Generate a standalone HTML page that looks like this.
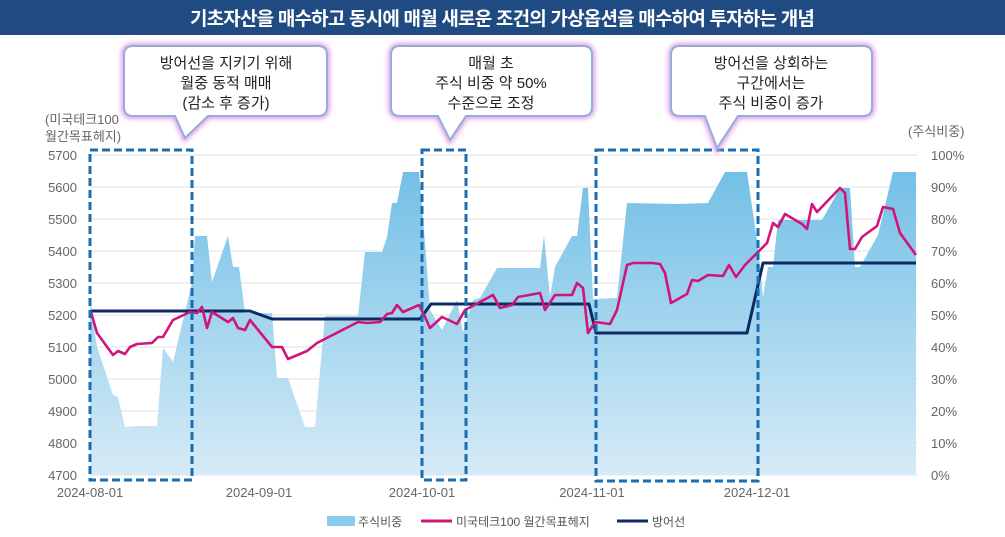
<!DOCTYPE html>
<html><head><meta charset="utf-8"><style>
body{margin:0;background:#fff;}
svg{display:block;font-family:"Liberation Sans","Noto Sans CJK KR",sans-serif;}
</style></head><body>
<svg width="1005" height="537" viewBox="0 0 1005 537" xmlns="http://www.w3.org/2000/svg">
<defs>
<linearGradient id="ag" x1="0" y1="155" x2="0" y2="475" gradientUnits="userSpaceOnUse">
<stop offset="0" stop-color="#6dbde5"/><stop offset="1" stop-color="#d6ebf7"/></linearGradient>
<filter id="gl" x="-20%" y="-30%" width="140%" height="160%"><feGaussianBlur stdDeviation="2.5"/></filter>
</defs>
<rect x="0" y="0" width="1005" height="35" fill="#1f4b82"/>
<text x="502" y="25" text-anchor="middle" fill="#fff" font-size="19" font-weight="bold" letter-spacing="-0.8">기초자산을 매수하고 동시에 매월 새로운 조건의 가상옵션을 매수하여 투자하는 개념</text>
<g stroke="#e2e2e2" stroke-width="1">
<line x1="90" y1="155" x2="918" y2="155"/><line x1="90" y1="187" x2="918" y2="187"/><line x1="90" y1="219" x2="918" y2="219"/><line x1="90" y1="251" x2="918" y2="251"/><line x1="90" y1="283" x2="918" y2="283"/><line x1="90" y1="315" x2="918" y2="315"/><line x1="90" y1="347" x2="918" y2="347"/><line x1="90" y1="379" x2="918" y2="379"/><line x1="90" y1="411" x2="918" y2="411"/><line x1="90" y1="443" x2="918" y2="443"/><line x1="90" y1="475" x2="918" y2="475"/>
</g>
<g fill="#666" font-size="13" text-anchor="end">
<text x="77" y="160">5700</text><text x="77" y="192">5600</text><text x="77" y="224">5500</text><text x="77" y="256">5400</text><text x="77" y="288">5300</text><text x="77" y="320">5200</text><text x="77" y="352">5100</text><text x="77" y="384">5000</text><text x="77" y="416">4900</text><text x="77" y="448">4800</text><text x="77" y="480">4700</text>
</g>
<g fill="#666" font-size="13">
<text x="931" y="160">100%</text><text x="931" y="192">90%</text><text x="931" y="224">80%</text><text x="931" y="256">70%</text><text x="931" y="288">60%</text><text x="931" y="320">50%</text><text x="931" y="352">40%</text><text x="931" y="384">30%</text><text x="931" y="416">20%</text><text x="931" y="448">10%</text><text x="931" y="480">0%</text>
<text x="45" y="124">(미국테크100</text><text x="45" y="141">월간목표헤지)</text>
<text x="908" y="136">(주식비중)</text>
</g>
<g fill="#666" font-size="13" text-anchor="middle">
<text x="90" y="497">2024-08-01</text><text x="259" y="497">2024-09-01</text><text x="422" y="497">2024-10-01</text><text x="592" y="497">2024-11-01</text><text x="757" y="497">2024-12-01</text>
</g>
<path fill="url(#ag)" d="M90,475 L90,300 97,347 113,395 118,397 125,427 137,426 157,426 163,348 173,362 192,283 195,236 207,236 212,282 228,236 233,267 239,267 245,313 272,313 277,378 288,378 305,427 315,427 325,316 358,316 365,252 382,252 387,237 392,203 397,203 403,172 419,172 425,243 430,310 442,330 457,300 463,332 473,300 480,298 497,268 540,268 544,236 550,297 555,267 572,236 577,236 583,188 588,188 593,299 617,298 627,203 677,204 708,203 725,172 747,172 758,247 763,297 768,267 773,267 778,220 822,220 840,188 850,188 855,267 860,267 878,235 893,172 916,172 916,475 Z"/>
<polyline fill="none" stroke="#0d2a63" stroke-width="3" stroke-linejoin="round" points="91,311 250,311 272,319 420,319 431,304 589,304 596,333 747,333 763,263 916,263"/>
<polyline fill="none" stroke="#d1147a" stroke-width="2.6" stroke-linejoin="round" points="91,312 97,333 113,355 118,351 125,354 130,347 137,344 152,343 158,337 163,337 173,320 190,312 197,313 202,307 207,328 212,312 228,322 233,318 238,328 245,330 250,320 272,347 282,347 288,359 307,351 317,343 358,322 367,323 380,322 387,314 392,313 397,305 403,312 419,305 425,317 430,328 442,317 457,324 465,310 493,295 500,308 512,305 518,297 540,293 545,310 555,295 572,295 577,283 583,288 588,333 595,322 610,324 617,310 627,265 633,263 652,263 660,264 665,273 671,303 687,294 692,280 698,281 708,275 723,276 729,265 736,277 745,265 767,243 773,223 778,227 785,214 802,224 807,229 812,204 817,212 840,188 845,193 850,249 855,249 862,237 877,226 883,207 893,209 900,233 916,255"/>
<g fill="none" stroke="#1a6cb3" stroke-width="3" stroke-dasharray="8 4">
<rect x="90" y="150" width="102" height="330"/>
<rect x="422" y="150" width="44" height="330"/>
<rect x="596" y="150" width="162" height="331"/>
</g>
<g>
<path d="M133,46 H318 Q327,46 327,55 V107 Q327,116 318,116 H208 L185,138 L175,116 H133 Q124,116 124,107 V55 Q124,46 133,46 Z" fill="none" stroke="#e79ee6" stroke-width="6" filter="url(#gl)"/>
<path d="M133,46 H318 Q327,46 327,55 V107 Q327,116 318,116 H208 L185,138 L175,116 H133 Q124,116 124,107 V55 Q124,46 133,46 Z" fill="#fff" stroke="#8fb0da" stroke-width="2"/>
<g font-size="15" fill="#222" text-anchor="middle"><text x="226" y="68">방어선을 지키기 위해</text><text x="226" y="88">월중 동적 매매</text><text x="226" y="108">(감소 후 증가)</text></g>
<path d="M400,46 H583 Q592,46 592,55 V107 Q592,116 583,116 H466 L450,140 L438,116 H400 Q391,116 391,107 V55 Q391,46 400,46 Z" fill="none" stroke="#e79ee6" stroke-width="6" filter="url(#gl)"/>
<path d="M400,46 H583 Q592,46 592,55 V107 Q592,116 583,116 H466 L450,140 L438,116 H400 Q391,116 391,107 V55 Q391,46 400,46 Z" fill="#fff" stroke="#8fb0da" stroke-width="2"/>
<g font-size="15" fill="#222" text-anchor="middle"><text x="491" y="68">매월 초</text><text x="491" y="88">주식 비중 약 50%</text><text x="491" y="108">수준으로 조정</text></g>
<path d="M680,46 H863 Q872,46 872,55 V107 Q872,116 863,116 H738 L717,148 L705,116 H680 Q671,116 671,107 V55 Q671,46 680,46 Z" fill="none" stroke="#e79ee6" stroke-width="6" filter="url(#gl)"/>
<path d="M680,46 H863 Q872,46 872,55 V107 Q872,116 863,116 H738 L717,148 L705,116 H680 Q671,116 671,107 V55 Q671,46 680,46 Z" fill="#fff" stroke="#8fb0da" stroke-width="2"/>
<g font-size="15" fill="#222" text-anchor="middle"><text x="771" y="68">방어선을 상회하는</text><text x="771" y="88">구간에서는</text><text x="771" y="108">주식 비중이 증가</text></g>
</g>
<rect x="327" y="516" width="28" height="10" fill="#8ccbeb"/>
<text x="358" y="526" font-size="12" fill="#555">주식비중</text>
<line x1="421" y1="521" x2="452" y2="521" stroke="#d1147a" stroke-width="3"/>
<text x="456" y="526" font-size="12" fill="#555">미국테크100 월간목표헤지</text>
<line x1="617" y1="521" x2="648" y2="521" stroke="#0d2a63" stroke-width="3"/>
<text x="652" y="526" font-size="12" fill="#555">방어선</text>
</svg>
</body></html>
